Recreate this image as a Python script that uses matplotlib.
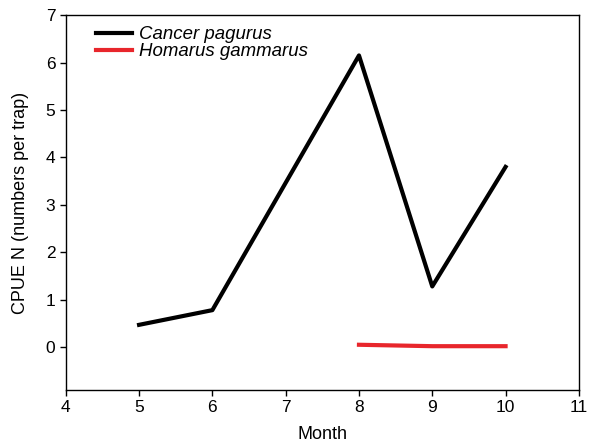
import numpy as np
import matplotlib.pyplot as plt

plt.rcParams['font.family'] = ['Liberation Sans', 'DejaVu Sans']

months_cancer = [5, 6, 8, 9, 10]
cpue_cancer = [0.47, 0.78, 6.15, 1.28, 3.80]
months_homarus = [8, 9, 10]
cpue_homarus = [0.05, 0.02, 0.02]

fig = plt.figure(figsize=(5.98, 4.45), dpi=100)
ax = fig.add_axes([0.110, 0.124, 0.858, 0.842])

ax.plot(months_cancer, cpue_cancer, color='black', lw=3, label='Cancer pagurus')
ax.plot(months_homarus, cpue_homarus, color='#e8262c', lw=3, label='Homarus gammarus')

ax.set_xlim(4, 11)
ax.set_ylim(-0.9, 7)
ax.set_xticks(range(4, 12))
ax.set_yticks(range(0, 8))
ax.tick_params(labelsize=12.5, direction='out', length=4, width=1)
for s in ax.spines.values():
    s.set_linewidth(1)
ax.set_xlabel('Month', fontsize=13, labelpad=8)
ax.set_ylabel('CPUE N (numbers per trap)', fontsize=13, labelpad=12)

leg = ax.legend(loc='upper left', bbox_to_anchor=(0.045, 0.99), frameon=False,
                fontsize=13.4, handlelength=1.9, handletextpad=0.4,
                labelspacing=0.0, borderaxespad=0.0)
for t in leg.get_texts():
    t.set_fontstyle('italic')

fig.savefig('out.png', dpi=100)
